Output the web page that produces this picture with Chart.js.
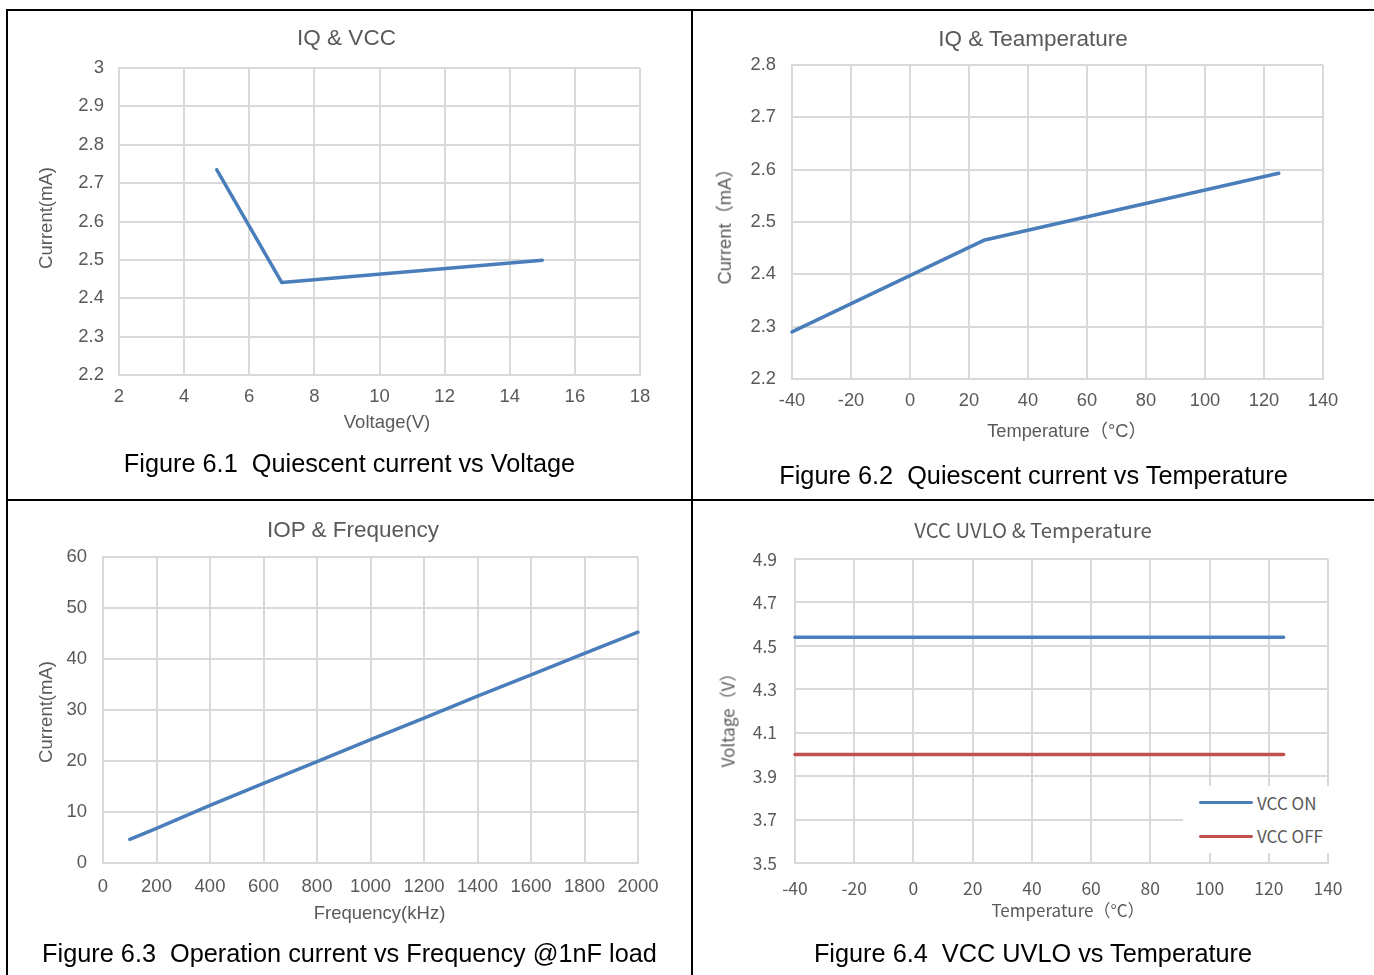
<!DOCTYPE html>
<html><head><meta charset="utf-8">
<script src="https://cdn.jsdelivr.net/npm/chart.js@4.4.1/dist/chart.umd.min.js"></script>
<style>
html,body{margin:0;padding:0;background:#fff;}
body{width:1374px;height:975px;overflow:hidden;position:relative;}
.b{position:absolute;background:#000;}
canvas{position:absolute;}
.t{position:absolute;transform:translate(-50%,-50%);white-space:pre;line-height:1;}
.r{transform:translate(-50%,-50%) rotate(-90deg);}
.g{color:#595959;font-family:'Liberation Sans','Noto Sans CJK SC',sans-serif;}
.k{color:#595959;font-family:'Noto Sans CJK SC',sans-serif;}
.cap{color:#000;font-family:'Liberation Sans',Arial,sans-serif;font-size:25.3px;}
#leg4{position:absolute;left:1183px;top:786px;width:147px;height:67px;background:#fff;}
.li{position:absolute;left:16px;width:54px;height:3.5px;border-radius:2px;}
.lt{position:absolute;left:74px;transform:translateY(-50%);line-height:1;color:#595959;font-family:'Noto Sans CJK SC',sans-serif;font-size:17px;white-space:nowrap;}
</style></head>
<body>
<div class="b" style="left:6px;top:9px;width:2px;height:966px"></div>
<div class="b" style="left:6px;top:9px;width:1368px;height:2px"></div>
<div class="b" style="left:691px;top:9px;width:2px;height:966px"></div>
<div class="b" style="left:6px;top:499px;width:1368px;height:2px"></div>

<canvas id="c1"></canvas>
<canvas id="c2"></canvas>
<canvas id="c3"></canvas>
<canvas id="c4"></canvas>

<!-- chart titles -->
<div class="t g" style="left:346.5px;top:38px;font-size:22.5px">IQ &amp; VCC</div>
<div class="t g" style="left:1033px;top:38.5px;font-size:22.5px">IQ &amp; Teamperature</div>
<div class="t g" style="left:353px;top:529.5px;font-size:22.5px">IOP &amp; Frequency</div>
<div class="t k" style="left:1033px;top:528.5px;font-size:20.3px">VCC UVLO &amp; Temperature</div>

<!-- axis titles -->
<div class="t g r" style="left:46px;top:217.5px;font-size:18.5px">Current(mA)</div>
<div class="t g" style="left:387px;top:421.5px;font-size:18.5px">Voltage(V)</div>
<div class="t g r" style="left:725px;top:222px;font-size:18.3px">Current（mA）</div>
<div class="t g" style="left:1067px;top:431px;font-size:18.3px">Temperature（°C）</div>
<div class="t g r" style="left:46px;top:712px;font-size:18.5px">Current(mA)</div>
<div class="t g" style="left:379.5px;top:913px;font-size:18.5px">Frequency(kHz)</div>
<div class="t k r" style="left:727px;top:716px;font-size:17px">Voltage（V）</div>
<div class="t k" style="left:1068px;top:908.5px;font-size:17px">Temperature（°C）</div>

<!-- captions -->
<div class="t cap" style="left:349.5px;top:464px">Figure 6.1  Quiescent current vs Voltage</div>
<div class="t cap" style="left:1033.5px;top:475.5px">Figure 6.2  Quiescent current vs Temperature</div>
<div class="t cap" style="left:349.5px;top:953.5px">Figure 6.3  Operation current vs Frequency @1nF load</div>
<div class="t cap" style="left:1033px;top:953.5px">Figure 6.4  VCC UVLO vs Temperature</div>

<div id="leg4"></div>

<script>
// ---------- data ----------
const iqVccVoltage = [5, 7, 15];
const iqVccCurrent = [2.735, 2.441, 2.499];
const iqVccXTicks = [2, 4, 6, 8, 10, 12, 14, 16, 18];
const iqVccYTicks = [2.2, 2.3, 2.4, 2.5, 2.6, 2.7, 2.8, 2.9, 3];

const iqTempTemp = [-40, 25, 125];
const iqTempCurrent = [2.29, 2.465, 2.593];
const iqTempXTicks = [-40, -20, 0, 20, 40, 60, 80, 100, 120, 140];
const iqTempYTicks = [2.2, 2.3, 2.4, 2.5, 2.6, 2.7, 2.8];

const iopFreq = [100, 200, 400, 600, 800, 1000, 1200, 1400, 1600, 1800, 2000];
const iopCurrent = [4.65, 6.8, 11.3, 15.6, 19.9, 24.2, 28.4, 32.7, 36.9, 41.1, 45.25];
const iopXTicks = [0, 200, 400, 600, 800, 1000, 1200, 1400, 1600, 1800, 2000];
const iopYTicks = [0, 10, 20, 30, 40, 50, 60];

const uvloTemp = [-40, 25, 125];
const vccOn = [4.54, 4.54, 4.54];
const vccOff = [4.0, 4.0, 4.0];
const uvloXTicks = [-40, -20, 0, 20, 40, 60, 80, 100, 120, 140];
const uvloYTicks = [3.5, 3.7, 3.9, 4.1, 4.3, 4.5, 4.7, 4.9];

// ---------- styling ----------
const FA = "'Liberation Sans', Arial, sans-serif";
const FC = "'Noto Sans CJK SC', sans-serif";
const GRID = '#d9d9d9';
const BLUE = '#4a7ebb';
const RED = '#c0504d';
const TXT = '#595959';
Chart.defaults.animation = false;

function pts(xs, ys) { return xs.map((x, i) => ({x: x, y: ys[i]})); }

function build(id, box, area, o) {
  const cv = document.getElementById(id);
  cv.width = box.w; cv.height = box.h;
  cv.style.left = box.x + 'px'; cv.style.top = box.y + 'px';
  cv.style.width = box.w + 'px'; cv.style.height = box.h + 'px';
  const yW = area.L - box.x;
  const xH = box.y + box.h - area.B;
  const tickFont = {family: o.family, size: o.tickSize};
  return new Chart(cv, {
    type: 'scatter',
    data: {
      datasets: o.series.map(s => ({
        label: s.label,
        data: s.data,
        showLine: true,
        borderColor: s.color,
        backgroundColor: s.color,
        borderWidth: 3.5,
        pointRadius: 0,
        pointHoverRadius: 0,
        tension: 0,
        borderCapStyle: 'round',
        borderJoinStyle: 'round',
        clip: 4
      }))
    },
    options: {
      responsive: false,
      maintainAspectRatio: false,
      devicePixelRatio: 1,
      layout: {padding: {left: 0, bottom: 0, top: area.T - box.y, right: box.x + box.w - area.R}},
      plugins: {legend: {display: false}, tooltip: {enabled: false}, title: {display: false}},
      scales: {
        x: {
          type: 'linear',
          min: o.xTicks[0], max: o.xTicks[o.xTicks.length - 1],
          afterBuildTicks: s => { s.ticks = o.xTicks.map(v => ({value: v})); },
          afterFit: s => { s.height = xH; },
          ticks: {callback: v => String(v), font: tickFont, color: TXT, padding: o.xTickPad, maxRotation: 0, autoSkip: false},
          grid: {color: GRID, lineWidth: 2, drawTicks: false},
          border: {color: GRID, width: 2}
        },
        y: {
          type: 'linear',
          min: o.yTicks[0], max: o.yTicks[o.yTicks.length - 1],
          afterBuildTicks: s => { s.ticks = o.yTicks.map(v => ({value: v})); },
          afterFit: s => { s.width = yW; },
          ticks: {callback: v => String(v), font: tickFont, color: TXT, padding: o.yTickPad, autoSkip: false},
          grid: {color: GRID, lineWidth: 2, drawTicks: false},
          border: {color: GRID, width: 2}
        }
      }
    }
  });
}

build('c1', {x: 8, y: 11, w: 683, h: 488}, {L: 119, R: 640, T: 68, B: 375}, {
  family: FA, tickSize: 18.5,
  xTicks: iqVccXTicks, yTicks: iqVccYTicks,
  xTickPad: 11, yTickPad: 15,
  series: [{label: 'IQ', data: pts(iqVccVoltage, iqVccCurrent), color: BLUE}]
});

build('c2', {x: 693, y: 11, w: 681, h: 488}, {L: 792, R: 1323, T: 65, B: 379}, {
  family: FA, tickSize: 18.3,
  xTicks: iqTempXTicks, yTicks: iqTempYTicks,
  xTickPad: 11, yTickPad: 16,
  series: [{label: 'IQ', data: pts(iqTempTemp, iqTempCurrent), color: BLUE}]
});

build('c3', {x: 8, y: 501, w: 683, h: 474}, {L: 103, R: 638, T: 557, B: 863}, {
  family: FA, tickSize: 18.5,
  xTicks: iopXTicks, yTicks: iopYTicks,
  xTickPad: 12.5, yTickPad: 16,
  series: [{label: 'IOP', data: pts(iopFreq, iopCurrent), color: BLUE}]
});

const ch4 = build('c4', {x: 693, y: 501, w: 681, h: 474}, {L: 795, R: 1328, T: 559, B: 863}, {
  family: FC, tickSize: 17.5,
  xTicks: uvloXTicks, yTicks: uvloYTicks,
  xTickPad: 15, yTickPad: 18,
  series: [
    {label: 'VCC ON', data: pts(uvloTemp, vccOn), color: BLUE},
    {label: 'VCC OFF', data: pts(uvloTemp, vccOff), color: RED}
  ]
});

// legend for chart 4 built from its datasets
const leg = document.getElementById('leg4');
ch4.data.datasets.forEach((ds, i) => {
  const cy = 16.7 + i * 33.6;
  const line = document.createElement('div');
  line.className = 'li';
  line.style.top = (cy - 1.75) + 'px';
  line.style.background = ds.borderColor;
  leg.appendChild(line);
  const tx = document.createElement('div');
  tx.className = 'lt';
  tx.style.top = (cy - 1) + 'px';
  tx.textContent = ds.label;
  leg.appendChild(tx);
});
</script>
</body></html>
